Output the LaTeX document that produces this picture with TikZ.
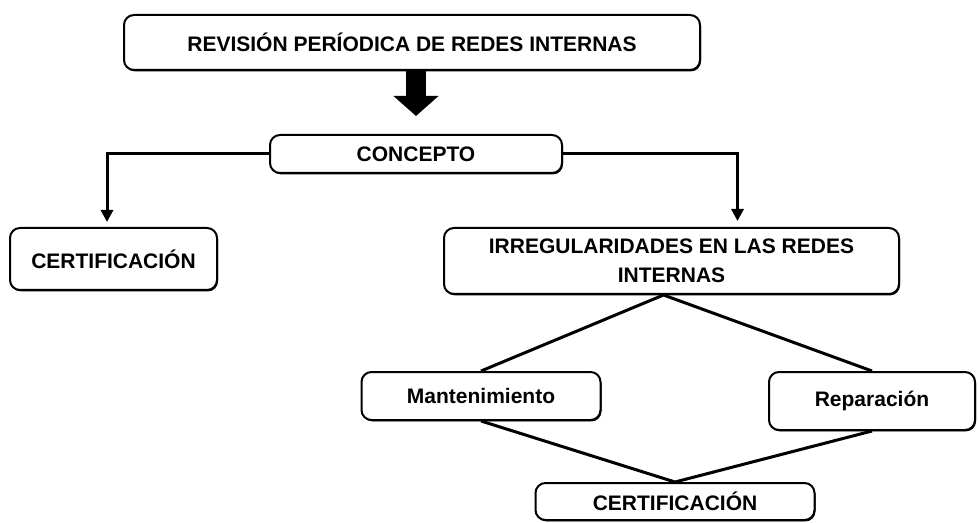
\documentclass[tikz,border=0pt]{standalone}
\usepackage{fontspec}
\setmainfont{Liberation Sans}
\usepackage{tikz}
\usetikzlibrary{arrows.meta}
\usetikzlibrary{shadows}

\begin{document}
\begin{tikzpicture}[x=0.5pt, y=-0.5pt,
        box/.style={draw, line width=1pt, rounded corners=5pt, fill=white, align=center,
                inner sep=0pt, font=\fontsize{10.5}{14.5}\selectfont\bfseries,
                drop shadow={shadow xshift=0.5pt, shadow yshift=-0.7pt, opacity=1, fill=black}},
        conn/.style={line width=1.5pt},
        arr/.style={conn, -{Triangle[width=6pt,length=6pt]}},
        bigarrow/.style={line width=10pt, -{Triangle[width=22pt,length=10pt]}}]
        \useasboundingbox (0,0) rectangle (978,523);
        % boxes
        \node[box, minimum width=288pt, minimum height=27.5pt] (revision) at (412, 42.5) {REVISIÓN PERÍODICA DE REDES INTERNAS};
        \node[box, minimum width=146pt, minimum height=19pt] (concepto) at (416, 154) {CONCEPTO};
        \node[box, minimum width=103.5pt, minimum height=31pt] (certif) at (113.5, 259) {CERTIFICACIÓN};
        \node[box, minimum width=227.5pt, minimum height=33pt] (irreg) at (671.5, 261) {IRREGULARIDADES EN LAS REDES\\INTERNAS};
        \node[box, minimum width=119.5pt, minimum height=24pt] (mant) at (481, 396) {Mantenimiento};
        \node[box, minimum width=103pt, minimum height=29pt] (repar) at (872, 401) {Reparación};
        \node[box, minimum width=139.5pt, minimum height=18.5pt] (certifb) at (675, 501.5) {CERTIFICACIÓN};
        % connectors
        \draw[bigarrow, shorten >=9pt] (concepto.north |- revision.south) -- (concepto.north);
        \draw[arr, shorten >=2.5pt] (concepto.west) -| ([xshift=-3.25pt]certif.north);
        \draw[arr, shorten >=3pt] (concepto.east) -| ([xshift=33pt]irreg.north);
        \draw[conn] (mant.north) -- ([xshift=-4pt]irreg.south) -- (repar.north);
        \draw[conn] (mant.south) -- (certifb.north) -- (repar.south);
\end{tikzpicture}
\end{document}
